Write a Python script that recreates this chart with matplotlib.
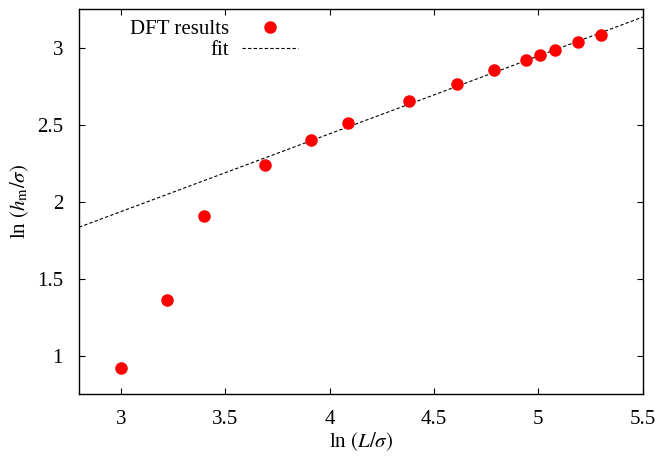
import matplotlib
matplotlib.use("Agg")
import matplotlib.pyplot as plt
import numpy as np

# Data
ln_L = [3.00, 3.22, 3.40, 3.69, 3.91, 4.09, 4.38, 4.61, 4.79, 4.94, 5.01, 5.08, 5.19, 5.30]
ln_h = [0.918, 1.362, 1.904, 2.241, 2.398, 2.511, 2.655, 2.763, 2.851, 2.918, 2.951, 2.981, 3.035, 3.082]
fit_slope = 0.505
fit_intercept = 0.42
x_ticks = [3, 3.5, 4, 4.5, 5, 5.5]
y_ticks = [1, 1.5, 2, 2.5, 3]

plt.rcParams['font.family'] = ['Liberation Serif', 'DejaVu Serif']
plt.rcParams['mathtext.fontset'] = 'stix'
plt.rcParams['font.size'] = 15

fig = plt.figure(figsize=(6.59, 4.59), dpi=100)
ax = fig.add_axes([79/659, 1-394.3/459, (642.7-79)/659, (394.3-9)/459])

xlim = (2.8, 5.5)
xf = np.array(xlim)
ax.plot(xf, fit_intercept + fit_slope*xf, color='black', lw=0.8, dashes=(3, 2), label='fit', zorder=2)
ax.plot(ln_L, ln_h, 'o', color='#ff0000', ms=8, mec='#ff0000', label='DFT results', zorder=3)

ax.set_xlim(*xlim)
ax.set_ylim(0.75, 3.25)
ax.set_xticks(x_ticks)
ax.set_xticklabels([f'{t:g}' for t in x_ticks])
ax.set_yticks(y_ticks)
ax.set_yticklabels([f'{t:g}' for t in y_ticks])
ax.tick_params(direction='in', length=4.5, width=0.8, top=True, right=True, pad=11.5, labelsize=15)
for s in ax.spines.values():
    s.set_linewidth(1.0)

ax.set_xlabel(r'ln $(L/\sigma)$', fontsize=15, labelpad=1)
ax.set_ylabel(r'ln $(h_{\rm m}/\sigma)$', fontsize=15, labelpad=4)

h, l = ax.get_legend_handles_labels()
leg = ax.legend(h[::-1], l[::-1], loc='upper left', bbox_to_anchor=(0.076, 0.995), frameon=False,
                markerfirst=False, handlelength=2.65, handletextpad=0.63, labelspacing=0.08,
                numpoints=1, fontsize=15, borderaxespad=0)

fig.savefig('out.png', dpi=100)
